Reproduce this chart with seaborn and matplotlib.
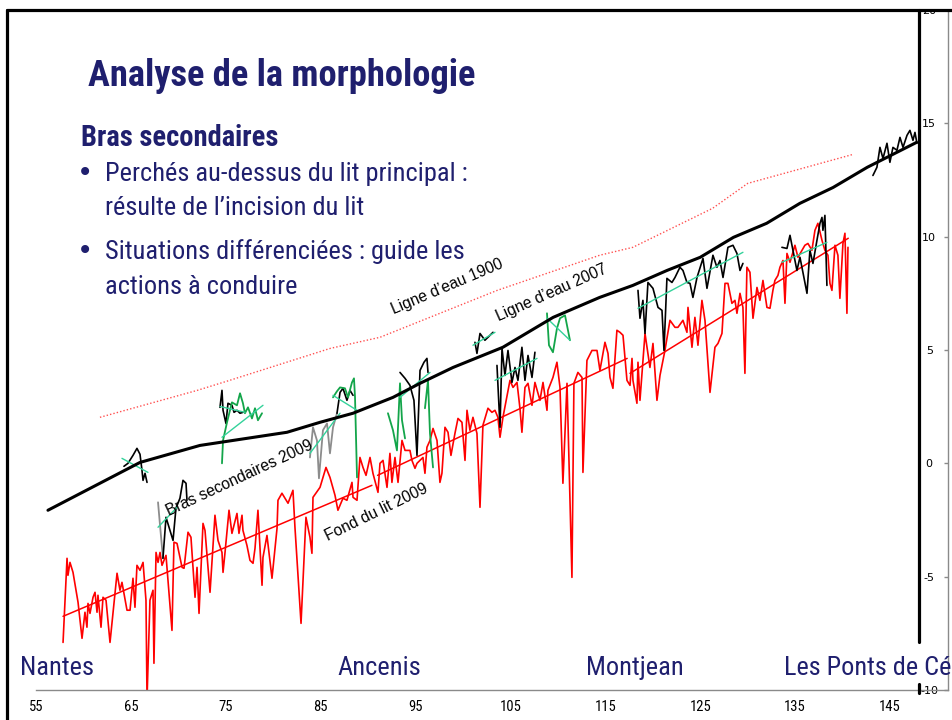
import matplotlib
matplotlib.use("Agg")
import matplotlib.pyplot as plt
import seaborn as sns
from matplotlib.lines import Line2D
from matplotlib.patches import Rectangle
from matplotlib import font_manager
from matplotlib.font_manager import FontProperties

sns.set_style("white")
plt.rcParams["font.family"] = ["Liberation Sans", "DejaVu Sans"]

NAVY = "#1f1f6e"


# ---------- pick a narrow / condensed sans font if one is installed ----------
def _w(v):
    if isinstance(v, (int, float)):
        return v
    return font_manager.weight_dict.get(str(v), 400)


def pick_font(bold):
    pref = ["liberation sans narrow", "arial narrow", "roboto condensed", "open sans condensed",
            "noto sans", "dejavu sans", "lato", "inter", "open sans", "roboto"]
    best, best_score = None, None
    for f in font_manager.fontManager.ttflist:
        name = f.name.lower()
        fn = f.fname.lower()
        narrow = ("narrow" in name or "condensed" in name or "narrow" in fn or "condensed" in fn
                  or f.stretch in ("condensed", "semi-condensed"))
        if not narrow:
            continue
        if "extra" in fn or "ultra" in fn or "italic" in fn or "oblique" in fn or f.style != "normal":
            continue
        if "mono" in name or "serif" in name and "sans" not in name or "cjk" in name:
            continue
        w = _w(f.weight)
        if bold and w < 600:
            continue
        if not bold and (w < 350 or w > 500):
            continue
        rank = len(pref)
        for i, p in enumerate(pref):
            if name.startswith(p):
                rank = i
                break
        score = (rank, abs(w - (700 if bold else 400)), 0 if "semicondensed" not in fn else 1)
        if best_score is None or score < best_score:
            best, best_score = f, score
    if best is None:
        return FontProperties(family="Liberation Sans", weight="bold" if bold else "normal")
    return FontProperties(fname=best.fname)


FP_REG = pick_font(False)
FP_BOLD = pick_font(True)

# ---------------- data (km, altitude m) ----------------
x_ticks = [55, 65, 75, 85, 95, 105, 115, 125, 135, 145]
y_ticks = [-10, -5, 0, 5, 10, 15, 20]

ligne1900_x = [61.74, 72.0, 75.4, 86.0, 91.25, 103.6, 114.4, 117.9, 126.3, 130.0, 141.1]
ligne1900_y = [2.03, 3.22, 3.66, 5.07, 5.56, 7.63, 9.18, 9.53, 11.25, 12.35, 13.63]

ligne2007_x = [56.26, 65.96, 72.28, 81.45, 84.93, 88.41, 92.62, 95.47, 98.95, 104.2, 109.5,
               114.4, 117.9, 121.5, 125.0, 128.5, 132.0, 135.5, 139.0, 142.6, 147.8]
ligne2007_y = [-2.07, 0.04, 0.79, 1.37, 1.81, 2.21, 2.91, 3.53, 4.23, 5.12, 6.44,
               7.32, 7.85, 8.51, 9.09, 9.97, 10.59, 11.47, 12.17, 13.06, 14.16]

fond_x = [57.85, 58.27, 58.37, 58.58, 58.90, 59.43, 59.85, 60.16, 60.37, 60.48, 60.69, 61.01, 61.22,
          61.43, 61.53, 61.85, 62.06, 62.38, 62.80, 63.54, 63.85, 64.06, 64.59, 64.91, 65.22, 65.43,
          65.64, 65.96, 66.28, 66.59, 66.70, 67.01, 67.33, 67.43, 67.65, 67.86, 68.07, 68.28, 68.70,
          69.33, 69.54, 69.86, 70.39, 70.60, 71.02, 71.33, 71.54, 71.76, 71.97, 72.18, 72.60, 72.81,
          73.34, 73.86, 74.18, 74.60, 74.71, 74.92, 75.34, 75.65, 76.18, 76.39, 76.71, 76.81, 77.23,
          77.55, 77.87, 78.08, 78.39, 78.82, 78.92, 79.34, 79.87, 80.40, 80.50, 80.92, 81.56, 82.08,
          82.29, 82.93, 83.45, 83.87, 84.08, 84.19, 84.93, 85.56, 85.98, 86.51, 86.82, 87.35, 87.77,
          88.30, 88.41, 88.83, 89.14, 89.46, 89.78, 90.20, 90.51, 91.04, 91.25, 91.57, 91.99, 92.30,
          92.51, 92.83, 93.15, 93.57, 93.89, 94.41, 94.62, 94.94, 95.15, 95.47, 95.78, 95.99, 96.20,
          96.52, 96.84, 97.26, 97.57, 97.78, 98.10, 98.42, 98.73, 99.15, 99.47, 99.89, 100.21, 100.42,
          100.73, 101.05, 101.47, 101.79, 102.10, 102.63, 103.05, 103.37, 103.68, 103.90, 104.21,
          104.95, 105.27, 105.69, 106.00, 106.21, 106.53, 106.85, 107.27, 107.58, 108.11, 108.43,
          108.85, 108.95, 109.48, 109.90, 110.22, 110.53, 110.96, 111.48, 111.69, 112.11, 112.54,
          112.64, 113.06, 113.59, 114.12, 114.43, 114.96, 115.28, 115.49, 115.80, 116.22, 116.54,
          116.86, 117.28, 117.60, 117.81, 117.91, 118.33, 118.44, 118.65, 119.18, 119.70, 120.02,
          120.44, 120.76, 121.28, 121.81, 122.34, 122.65, 123.18, 123.60, 123.71, 124.13, 124.44,
          124.76, 125.18, 125.50, 126.03, 126.55, 126.87, 127.29, 127.61, 127.92, 128.34, 128.66,
          128.87, 129.19, 129.50, 129.71, 129.92, 130.24, 130.56, 130.98, 131.29, 131.61, 132.03,
          132.35, 132.66, 132.87, 133.19, 133.40, 133.72, 133.93, 134.14, 134.46, 134.98, 135.30,
          135.72, 136.03, 136.35, 136.77, 137.09, 137.40, 137.83, 138.14, 138.46, 138.67, 138.88,
          139.20, 139.51, 139.72, 140.04, 140.25, 140.46, 140.57]
fond_y = [-7.90, -4.19, -4.94, -4.37, -4.81, -6.13, -7.72, -6.57, -7.23, -6.18, -6.62, -5.91, -5.69,
          -6.57, -5.82, -7.23, -5.91, -6.04, -7.90, -4.85, -5.60, -5.25, -6.48, -6.48, -5.07, -6.35,
          -4.50, -4.72, -4.37, -6.04, -10.4, -6.04, -5.60, -8.82, -3.93, -4.37, -3.93, -4.50, -4.06,
          -7.37, -3.48, -3.53, -4.59, -4.63, -3.04, -3.26, -4.59, -5.91, -4.59, -6.62, -2.65, -2.96,
          -5.69, -2.29, -3.40, -3.93, -4.81, -3.93, -2.07, -3.09, -2.21, -3.09, -2.29, -2.96, -3.62,
          -4.28, -4.41, -3.75, -2.07, -5.38, -4.15, -3.18, -5.07, -2.87, -1.63, -1.32, -1.76, -1.19,
          -2.82, -7.06, -2.38, -3.26, -3.97, -1.50, -1.06, -0.18, -0.62, -1.41, -2.07, -1.54, -1.63,
          -0.84, -1.50, -1.63, 0.26, -0.18, -0.53, 0.26, -0.44, -1.28, 0.00, 0.13, -1.06, 0.44,
          -0.84, 0.26, -0.84, 1.01, 0.57, 0.57, 0.13, -0.22, 0.00, 0.13, 0.26, -0.44, 0.71,
          1.01, 1.54, 1.01, -0.84, -0.44, 1.59, 1.37, 0.35, 1.32, 1.98, 1.81, 0.13, 2.34,
          1.46, 2.03, 1.32, -1.94, 1.68, 2.43, 2.25, 2.34, 2.03, 1.15, 2.03,
          3.66, 3.35, 3.57, 2.43, 1.37, 3.35, 3.53, 2.56, 3.57, 2.78, 3.57,
          2.34, 3.22, 3.79, 4.46, 3.35, -0.88, 3.53, -5.03, 3.53, 4.01, 3.79,
          -0.40, 4.54, 4.98, 4.98, 4.10, 5.34, 4.85, 3.79, 3.31, 5.87, 5.78,
          5.65, 3.66, 3.44, 4.63, 3.66, 2.65, 4.46, 2.78, 5.73, 4.23, 5.29,
          2.78, 3.88, 4.98, 6.31, 6.00, 6.00, 6.31, 5.78, 6.88, 5.12, 6.44,
          5.21, 7.19, 6.31, 3.13, 5.12, 5.29, 5.73, 7.94, 7.94, 7.06, 7.19,
          6.62, 7.50, 6.88, 3.97, 8.65, 8.43, 6.40, 7.76, 7.19, 8.07, 6.88,
          6.84, 7.63, 8.07, 8.29, 8.65, 8.95, 7.06, 9.26, 8.87, 9.62, 9.09,
          9.40, 9.62, 9.70, 9.40, 10.28, 10.59, 9.84, 9.40, 9.18, 7.94, 7.63,
          9.62, 9.18, 7.28, 9.70, 10.15, 6.62, 9.53]

# trend segments of the bed (start/end points)
fond_trend_x = [[57.85, 90.4], [91.0, 117.3], [117.6, 140.6]]
fond_trend_y = [[-6.75, -0.97], [-0.53, 4.63], [3.97, 9.93]]

# secondary channels 2009 - black profiles
bras_black_x = [
    [64.27, 64.69, 65.22, 65.64, 65.96, 66.17, 66.28, 66.49, 66.70],
    [68.38, 68.70, 69.12, 69.44, 69.75, 70.17, 70.49, 70.81, 70.91],
    [74.39, 74.60, 74.71, 75.02, 75.23, 75.65, 75.87, 76.18, 76.50, 76.81],
    [86.72, 87.04, 87.35, 87.77, 88.09, 88.41],
    [93.36, 93.89, 94.41, 94.83, 95.15, 95.47, 95.89, 96.20, 96.31],
    [101.26, 101.47, 101.79, 102.31, 102.63, 103.16],
    [103.58, 103.90, 104.11, 104.42, 104.74, 105.16, 105.48, 105.79, 106.21, 106.53, 106.85, 107.27, 107.58],
    [118.44, 118.65, 118.96, 119.18, 119.49, 120.02, 120.55, 120.97, 121.18, 121.49, 122.02, 122.34,
     122.86, 123.18, 123.60, 123.92, 124.23, 124.66, 125.29, 125.71, 126.34, 126.76, 127.08, 127.40,
     127.92, 128.45, 128.87, 129.19, 129.50],
    [133.61, 134.14, 134.46, 134.77, 135.19, 135.51, 135.82, 136.25, 136.56, 136.88, 137.30, 137.62,
     137.83, 137.93, 138.14, 138.35],
    [143.20, 143.62, 143.94, 144.26, 144.68, 144.99, 145.31, 145.73, 146.05, 146.37, 146.79, 147.10,
     147.42, 147.63, 147.84],
]
bras_black_y = [
    [-0.13, 0.0, 0.35, 0.66, 0.40, -0.31, -0.75, -0.44, -0.84],
    [-4.19, -2.38, -2.96, -3.40, -1.98, -1.54, -0.75, -0.88, -1.63],
    [2.47, 3.22, 2.34, 1.76, 2.65, 2.56, 2.25, 2.34, 2.21, 2.25],
    [2.21, 3.13, 3.31, 2.78, 3.22, 3.00],
    [4.01, 3.75, 3.44, 2.78, 0.35, 4.10, 4.46, 4.63, 4.01],
    [5.34, 4.85, 5.73, 5.43, 5.56, 5.78],
    [4.32, 1.59, 5.07, 3.88, 4.98, 3.57, 4.23, 3.66, 5.12, 3.66, 4.76, 3.79, 4.90],
    [7.63, 6.40, 7.19, 5.73, 7.98, 7.72, 6.88, 6.75, 4.98, 8.16, 7.98, 8.20,
     8.65, 8.51, 7.98, 7.94, 7.32, 8.20, 9.04, 7.72, 9.18, 8.65, 8.95, 8.20,
     9.53, 9.62, 9.26, 8.51, 8.82],
    [9.53, 9.48, 10.06, 9.40, 8.51, 9.09, 8.43, 7.50, 9.40, 8.82, 9.84, 10.59,
     10.85, 10.28, 10.94, 7.85],
    [12.70, 13.06, 13.94, 13.45, 14.12, 13.28, 13.94, 13.81, 14.38, 13.94, 14.47, 14.69,
     14.25, 14.60, 14.12],
]

# secondary channels 2009 - grey profiles
bras_grey_x = [[67.86, 68.07, 68.38], [83.87, 84.19, 84.61, 84.82, 85.24, 85.67, 85.98, 86.30, 86.72]]
bras_grey_y = [[-1.72, -2.73, -4.19], [0.26, 1.59, 1.01, -0.66, 1.46, 1.76, 0.44, 1.59, 2.21]]

# secondary channels 2009 - green profiles
bras_green_x = [
    [74.60, 74.71, 75.13, 75.65, 76.18, 76.50, 76.81, 77.02, 77.34, 77.76, 78.08, 78.39, 78.82],
    [86.30, 86.72, 87.04, 87.56, 87.88, 88.30, 88.51, 88.62, 88.83],
    [92.09, 92.62, 93.04, 93.36, 93.57, 93.89],
    [95.99, 96.31, 96.52, 96.84],
    [108.85, 109.06, 109.48, 109.90, 110.22, 110.75, 111.27],
]
bras_green_y = [
    [0.0, 1.01, 1.81, 2.69, 2.56, 3.09, 2.65, 2.21, 2.47, 1.98, 2.43, 1.90, 2.21],
    [2.91, 3.18, 3.35, 3.31, 2.91, 3.57, 3.75, 2.91, -0.62],
    [2.21, 1.46, 0.57, 3.53, 1.90, 1.10],
    [2.43, 3.66, 1.32, -0.18],
    [6.62, 5.21, 4.90, 5.95, 6.40, 6.53, 5.43],
]

# trend lines of the secondary channels
bras_trend_x = [[64.06, 66.80], [67.86, 69.86], [74.39, 77.02], [74.60, 78.92], [83.87, 87.04],
                [86.30, 88.83], [93.36, 96.52], [101.05, 103.37], [103.37, 107.80], [108.85, 111.27],
                [118.44, 129.50], [133.61, 138.35]]
bras_trend_y = [[0.22, -0.40], [-2.82, -1.94], [2.51, 2.25], [1.15, 2.56], [0.44, 2.21],
                [3.00, 2.34], [2.91, 4.01], [5.21, 5.78], [3.66, 4.63], [6.40, 5.43],
                [6.84, 9.31], [8.87, 9.75]]

cities = ["Nantes", "Ancenis", "Montjean", "Les Ponts de Cé"]

# ---------------- figure ----------------
W, H = 953, 720
fig = plt.figure(figsize=(W / 100, H / 100), dpi=100)
fig.patch.set_facecolor("white")


def fx(px):
    return px / W


def fy(py):
    return 1 - py / H


ax = fig.add_axes([fx(36), fy(690), fx(948) - fx(36), fy(10) - fy(690)])
ax.set_facecolor("none")

RED = "#ff0000"
TEAL = "#33d29a"
GREEN = "#13a54a"

sns.lineplot(x=ligne1900_x, y=ligne1900_y, ax=ax, color="#ff5050", lw=1.0, linestyle=(0, (1, 1.5)),
             estimator=None, sort=False, legend=False)
sns.lineplot(x=fond_x, y=fond_y, ax=ax, color=RED, lw=1.2, estimator=None, sort=False, legend=False)
for tx, ty in zip(fond_trend_x, fond_trend_y):
    sns.lineplot(x=tx, y=ty, ax=ax, color=RED, lw=1.1, estimator=None, sort=False, legend=False)
for gx, gy in zip(bras_grey_x, bras_grey_y):
    sns.lineplot(x=gx, y=gy, ax=ax, color="#8c8c8c", lw=1.3, estimator=None, sort=False, legend=False)
for bx, by in zip(bras_black_x, bras_black_y):
    sns.lineplot(x=bx, y=by, ax=ax, color="black", lw=1.2, estimator=None, sort=False, legend=False)
for gx, gy in zip(bras_green_x, bras_green_y):
    sns.lineplot(x=gx, y=gy, ax=ax, color=GREEN, lw=1.3, estimator=None, sort=False, legend=False)
for tx, ty in zip(bras_trend_x, bras_trend_y):
    sns.lineplot(x=tx, y=ty, ax=ax, color=TEAL, lw=1.0, estimator=None, sort=False, legend=False)
sns.lineplot(x=ligne2007_x, y=ligne2007_y, ax=ax, color="black", lw=2.2, estimator=None, sort=False,
             legend=False)

ax.set_xlim(55, 55 + (948 - 36) / 9.489)
ax.set_ylim(-10, 20)
ax.set_xlabel("")
ax.set_ylabel("")
for s in ["top", "left"]:
    ax.spines[s].set_visible(False)
for s in ["bottom", "right"]:
    ax.spines[s].set_color("#8a8a8a")
    ax.spines[s].set_linewidth(1.0)

ax.set_xticks(x_ticks)
ax.set_xticklabels([str(v) for v in x_ticks], color="black")
for t in ax.get_xticklabels():
    t.set_fontproperties(FP_REG)
    t.set_fontsize(10.5)
ax.tick_params(axis="x", direction="out", length=3, width=1, color="#8a8a8a", pad=4)

ax.yaxis.tick_right()
ax.set_yticks(y_ticks)
ax.set_yticklabels([str(v) for v in y_ticks], fontfamily="DejaVu Sans", fontsize=8, color="black")
ax.tick_params(axis="y", direction="in", length=3, width=1, color="#8a8a8a", pad=-13.5)
plt.setp(ax.get_yticklabels(), ha="center")

renderer = fig.canvas.get_renderer()


def fit_group(texts, targets):
    ratios = []
    for t, tw in zip(texts, targets):
        w = t.get_window_extent(renderer).width
        ratios.append(tw / w)
    r = sum(ratios) / len(ratios)
    for t in texts:
        t.set_fontsize(t.get_fontsize() * r)


# curve annotations
ann_font = dict(fontsize=12, color="black", rotation_mode="anchor", ha="center", va="center",
                family=["Liberation Sans", "DejaVu Sans"])
ann = [
    (447, 287, "Ligne d\u2019eau 1900", 23, 120),
    (552, 293, "Ligne d\u2019eau 2007", 24, 121),
    (240, 478, "Bras secondaires 2009", 25, 159),
    (376, 512, "Fond du lit 2009", 26, 114),
]
ann_txt = [fig.text(fx(px), fy(py), s, **ann_font) for px, py, s, _, _ in ann]
fit_group(ann_txt, [a[4] for a in ann])
for t, a in zip(ann_txt, ann):
    t.set_rotation(a[3])

# cover area above the slide border
fig.add_artist(Rectangle((0, fy(10)), 1, 1 - fy(10), transform=fig.transFigure,
                         facecolor="white", edgecolor="none", zorder=5))

# slide frame
frame_kw = dict(color="black", lw=2.3, transform=fig.transFigure, zorder=6)
fig.add_artist(Line2D([fx(7), fx(7)], [fy(10), 0], **frame_kw))
fig.add_artist(Line2D([fx(7), 1], [fy(10), fy(10)], **frame_kw))
fig.add_artist(Line2D([fx(919), fx(919)], [fy(10), fy(642)], **frame_kw))
fig.add_artist(Line2D([fx(919), fx(919)], [fy(684), fy(693)], **frame_kw))

# slide text
title = fig.text(fx(88), fy(86), "Analyse de la morphologie", fontproperties=FP_BOLD, fontsize=26,
                 color=NAVY, va="baseline", zorder=7)
fit_group([title], [388])
sub = fig.text(fx(81), fy(146), "Bras secondaires", fontproperties=FP_BOLD, fontsize=20,
               color=NAVY, va="baseline", zorder=7)
fit_group([sub], [197])

body = dict(fontproperties=FP_REG, fontsize=20, color=NAVY, va="baseline", zorder=7)
lines = [
    (105, 181, "Perchés au-dessus du lit principal :", 371),
    (105, 215, "résulte de l\u2019incision du lit", 258),
    (105, 259, "Situations différenciées : guide les", 362),
    (105, 294, "actions à conduire", 192),
]
city_px = [20, 337, 586, 784]
city_w = [72, 84, 97, None]
body_txt = [fig.text(fx(px), fy(py), s, **body) for px, py, s, _ in lines]
city_txt = [fig.text(fx(px), fy(675), name, **body) for name, px in zip(cities, city_px)]
fit_group(body_txt + city_txt[:3], [l[3] for l in lines] + city_w[:3])
city_txt[3].set_fontsize(body_txt[0].get_fontsize())
# keep the last city label inside the picture
w_last = city_txt[3].get_window_extent(renderer).width
if 784 + w_last > W - 2:
    city_txt[3].set_fontsize(city_txt[3].get_fontsize() * (W - 2 - 784) / w_last)

# bullets
for py in (181, 259):
    fig.text(fx(85), fy(py), "\u2022", fontsize=20, family=["DejaVu Sans"], color=NAVY,
             ha="center", va="baseline", zorder=7)

fig.savefig("out.png", dpi=100)
